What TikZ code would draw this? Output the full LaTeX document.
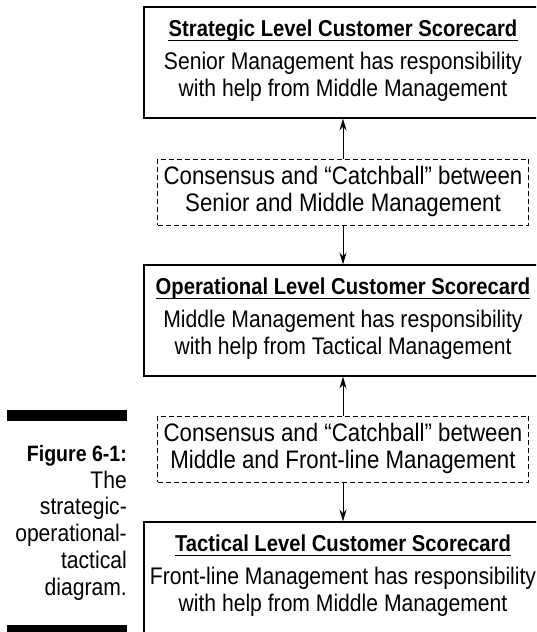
\documentclass[tikz,border=0pt]{standalone}
\usepackage{fontspec}
\setmainfont{Liberation Sans}[FakeStretch=0.88]
\usetikzlibrary{arrows.meta}
\begin{document}
\begin{tikzpicture}[x=1pt,y=-1pt,
  scorebox/.style={draw=black,line width=1.1pt,minimum width=398pt,minimum height=111pt,inner sep=0pt},
  dashbox/.style={draw=black,line width=0.8pt,dash pattern=on 5pt off 3pt,minimum width=371pt,minimum height=66pt,inner sep=0pt},
  titletext/.style={inner sep=0pt,anchor=base,font=\fontsize{23}{27}\selectfont\bfseries},
  bodytext/.style={inner sep=0pt,anchor=base,font=\fontsize{24}{27}\selectfont},
  dashtext/.style={inner sep=0pt,anchor=base,font=\fontsize{25.3}{27}\selectfont},
  captext/.style={inner sep=0pt,anchor=base east,font=\fontsize{24}{27}\selectfont},
  capbold/.style={inner sep=0pt,anchor=base east,font=\fontsize{22.2}{27}\selectfont\bfseries},
  ulinestyle/.style={line width=1pt},
  arr/.style={line width=1pt,-{Stealth[length=12pt,width=7pt]}},
  bar/.style={fill=black,draw=none}]
\useasboundingbox (0,0) rectangle (536,632);
\clip (0,0) rectangle (536,632);

% boxes
\node[scorebox] (b1) at (343,62.5) {};
\node[dashbox] (d1) at (343,192) {};
\node[scorebox] (b2) at (343,320.5) {};
\node[dashbox] (d2) at (343,449) {};
\node[scorebox] (b3) at (343,577.5) {};

% box 1 text
\node[titletext] (t1) at ([yshift=-30pt]b1.north) {Strategic Level Customer Scorecard};
\draw[ulinestyle] ([yshift=-4.5pt]t1.base west) -- ([yshift=-4.5pt]t1.base east);
\node[bodytext] (l1a) at ([yshift=-63pt]b1.north) {Senior Management has responsibility};
\node[bodytext] (l1b) at ([yshift=-90pt]b1.north) {with help from Middle Management};

% dashed 1 text
\node[dashtext] (c1a) at ([yshift=-26pt]d1.north) {Consensus and “Catchball” between};
\node[dashtext] (c1b) at ([yshift=-53pt]d1.north) {Senior and Middle Management};

% box 2 text
\node[titletext] (t2) at ([yshift=-30pt]b2.north) {Operational Level Customer Scorecard};
\draw[ulinestyle] ([yshift=-4.5pt]t2.base west) -- ([yshift=-4.5pt]t2.base east);
\node[bodytext] (l2a) at ([yshift=-63pt]b2.north) {Middle Management has responsibility};
\node[bodytext] (l2b) at ([yshift=-90pt]b2.north) {with help from Tactical Management};

% dashed 2 text
\node[dashtext] (c2a) at ([yshift=-26pt]d2.north) {Consensus and “Catchball” between};
\node[dashtext] (c2b) at ([yshift=-53pt]d2.north) {Middle and Front-line Management};

% box 3 text
\node[titletext] (t3) at ([yshift=-30pt]b3.north) {Tactical Level Customer Scorecard};
\draw[ulinestyle] ([yshift=-4.5pt]t3.base west) -- ([yshift=-4.5pt]t3.base east);
\node[bodytext] (l3a) at ([yshift=-63pt]b3.north) {Front-line Management has responsibility};
\node[bodytext] (l3b) at ([yshift=-90pt]b3.north) {with help from Middle Management};

% connectors
\draw[arr] (d1.north) -- (b1.south);
\draw[arr] (d1.south) -- (b2.north);
\draw[arr] (d2.north) -- (b2.south);
\draw[arr] (d2.south) -- (b3.north);

% caption
\fill[bar] (7,410) rectangle (127,421);
\node[capbold] (f1) at (127,461) {Figure 6-1:};
\node[captext] (f2) at (127,488) {The};
\node[captext] (f3) at (127,514.5) {strategic-};
\node[captext] (f4) at (127,541) {operational-};
\node[captext] (f5) at (127,568) {tactical};
\node[captext] (f6) at (127,595) {diagram.};
\fill[bar] (7,625) rectangle (127,636);
\end{tikzpicture}
\end{document}
